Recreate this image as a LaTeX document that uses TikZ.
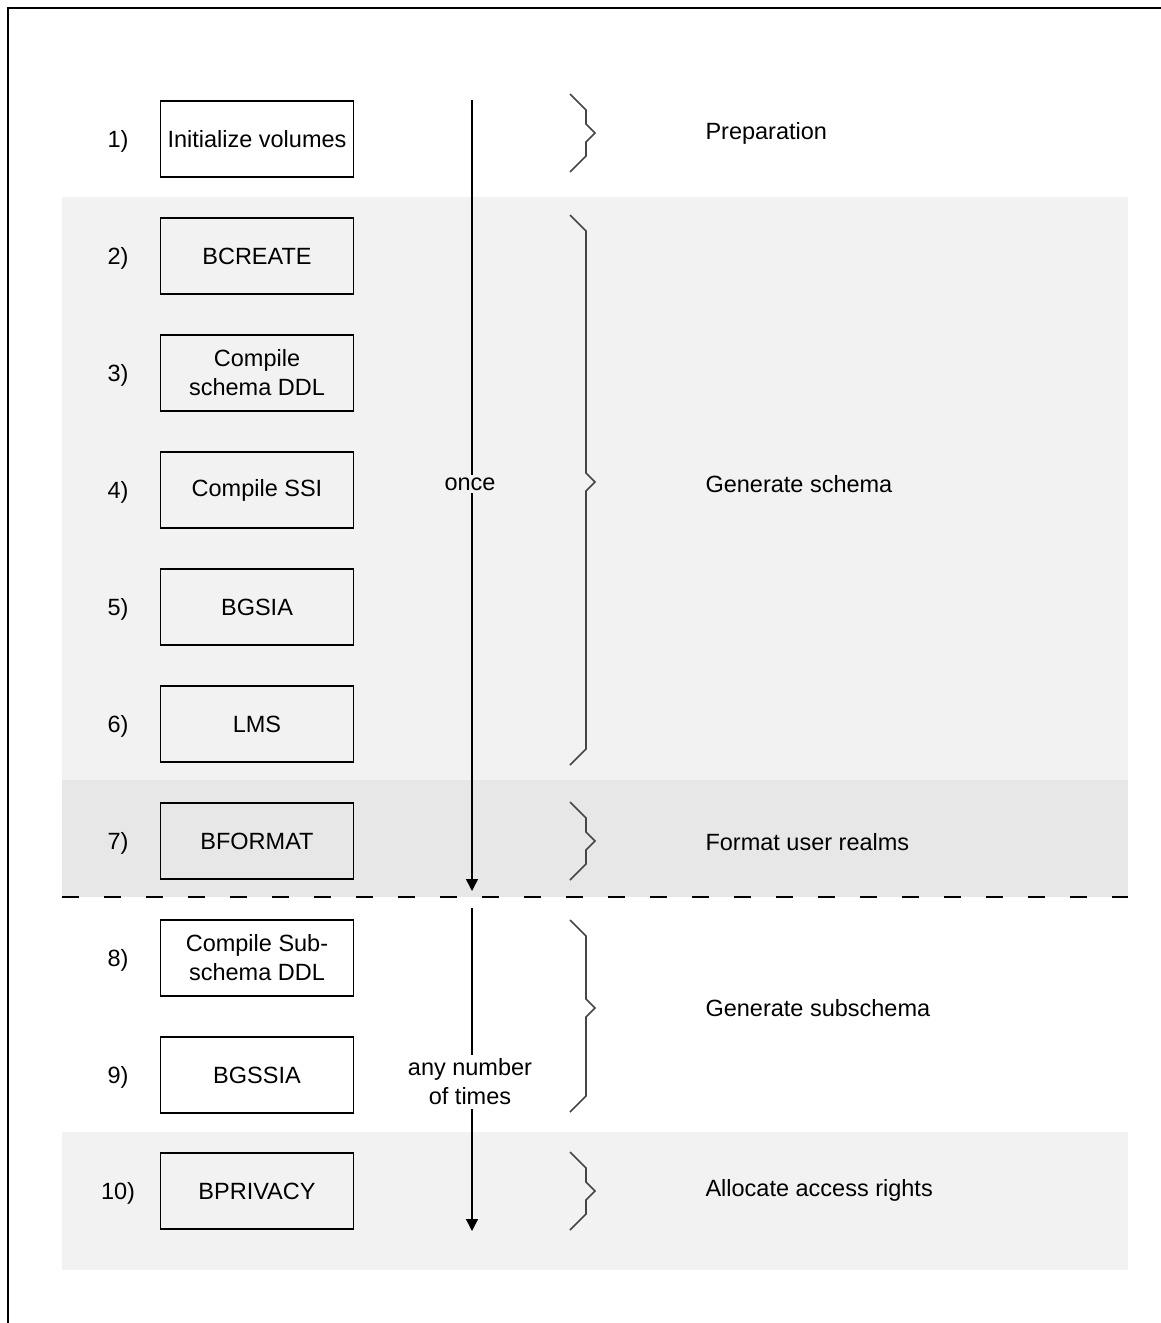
\documentclass[tikz,border=0pt]{standalone}
\usepackage{fontspec}
\setmainfont{Liberation Sans}
\usetikzlibrary{arrows.meta}
\newcommand\diagfont{\fontsize{23.5}{29}\selectfont}
\definecolor{bandlight}{HTML}{F2F2F2}
\definecolor{banddark}{HTML}{E7E7E7}
\definecolor{bracegray}{HTML}{454545}
% zig-zag brace: top end, tip, bottom end (y values)
\newcommand\zigbrace[3]{%
  \draw[zbrace] (570,#1) -- (586,{#1+16}) -- (586,{#2-9}) -- (595,#2)
    -- (586,{#2+9}) -- (586,{#3-16}) -- (570,#3);}
\begin{document}
\begin{tikzpicture}[x=1pt,y=-1pt,
  stepbox/.style={draw, line width=1.6pt, minimum width=193pt, minimum height=76pt,
    align=center, font=\diagfont, inner sep=2pt},
  num/.style={font=\diagfont, anchor=center},
  phase/.style={font=\diagfont, anchor=west},
  zbrace/.style={draw=bracegray, line width=1.6pt, line join=miter},
  flow/.style={line width=1.6pt, -{Triangle[length=12pt,width=12pt]}},
  flowlabel/.style={font=\diagfont, align=center, inner sep=3pt},
  sep/.style={line width=1.6pt, dash pattern=on 17pt off 25pt}]
\useasboundingbox (0,0) rectangle (1160,1323);

% shaded bands
\fill[bandlight] (62,197) rectangle (1128,780);
\fill[banddark] (62,780) rectangle (1128,897);
\fill[bandlight] (62,1132) rectangle (1128,1270);

% outer frame
\draw[line width=1.8pt] (8,1330) -- (8,8) -- (1170,8);

% steps
\node[stepbox] (s1) at (257,139) {Initialize volumes};
\node[stepbox] (s2) at (257,256) {BCREATE};
\node[stepbox] (s3) at (257,373) {Compile\\schema DDL};
\node[stepbox] (s4) at (257,490) {Compile SSI};
\node[stepbox] (s5) at (257,607) {BGSIA};
\node[stepbox] (s6) at (257,724) {LMS};
\node[stepbox] (s7) at (257,841) {BFORMAT};
\node[stepbox] (s8) at (257,958) {Compile Sub-\\schema DDL};
\node[stepbox] (s9) at (257,1075) {BGSSIA};
\node[stepbox] (s10) at (257,1191) {BPRIVACY};

% step numbers
\node[num] (n1) at (118,141) {1)};
\node[num] (n2) at (118,258) {2)};
\node[num] (n3) at (118,375) {3)};
\node[num] (n4) at (118,492) {4)};
\node[num] (n5) at (118,609) {5)};
\node[num] (n6) at (118,726) {6)};
\node[num] (n7) at (118,843) {7)};
\node[num] (n8) at (118,960) {8)};
\node[num] (n9) at (118,1077) {9)};
\node[num] (n10) at (118,1193) {10)};

% separator between one-time and repeatable steps
\draw[sep] (62,897) -- (1128,897);

% repetition arrows
\coordinate (a1s) at (472,100);
\coordinate (a1e) at (472,891);
\draw[flow] (a1s) -- (a1e);
\node[flowlabel, fill=bandlight] (once) at (470,484) {once};

\coordinate (a2s) at (472,908);
\coordinate (a2e) at (472,1231);
\draw[flow] (a2s) -- (a2e);
\node[flowlabel, fill=white, inner sep=4pt] (anyn) at (470,1082) {any number\\of times};

% braces
\zigbrace{94}{133}{172}
\zigbrace{215}{482}{765}
\zigbrace{802}{841}{880}
\zigbrace{920}{1008}{1112}
\zigbrace{1152}{1191}{1230}

% phase labels
\node[phase] (p1) at (702,133) {Preparation};
\node[phase] (p2) at (702,484) {Generate schema};
\node[phase] (p3) at (702,842) {Format user realms};
\node[phase] (p4) at (702,1008) {Generate subschema};
\node[phase] (p5) at (702,1190) {Allocate access rights};
\end{tikzpicture}
\end{document}
